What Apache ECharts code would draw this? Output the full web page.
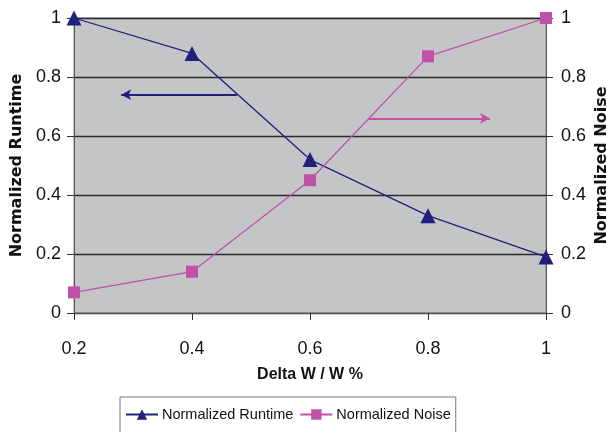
<!DOCTYPE html>
<html><head><meta charset="utf-8">
<script src="https://cdn.jsdelivr.net/npm/echarts@6/dist/echarts.min.js"></script>
<style>html,body{margin:0;padding:0;background:#fff}#c{width:607px;height:432px}</style>
</head><body><div id="c"></div>
<script>
var xValues = [0.2, 0.4, 0.6, 0.8, 1.0];
var runtime = [1.0, 0.88, 0.52, 0.33, 0.19];
var noise = [0.07, 0.14, 0.45, 0.87, 1.0];
var runtimeArrow = [[0.476, 0.74], [0.28, 0.74]];
var noiseArrow = [[0.70, 0.66], [0.905, 0.66]];

var font = 'Liberation Sans';
var nameFont = 'DejaVu Sans';
var blue = '#20207A';
var pink = '#C050A8';
var chart = echarts.init(document.getElementById('c'));
function pairs(xs, ys){ return xs.map(function(x,i){return [x, ys[i]];}); }
var fmt = function(v){ return (Math.round(v*10)/10).toString(); };
chart.setOption({
  animation: false,
  grid: {left: 74, right: 61, top: 18, bottom: 119, containLabel: false, outerBoundsMode: 'none',
         show: true, backgroundColor: '#C4C5C7', borderColor: '#8a8a8a', borderWidth: 1},
  legend: {
    top: 397, left: 120, itemWidth: 32, itemHeight: 13, itemGap: 6,
    borderColor: '#777', borderWidth: 1, padding: [10, 5, 30, 5], borderRadius: 0,
    textStyle: {fontFamily: font, fontSize: 14.5, color: '#111', padding: [0, 0, 0, -1]},
    data: ['Normalized Runtime', 'Normalized Noise']
  },
  xAxis: {
    type: 'value', min: 0.2, max: 1, interval: 0.2,
    name: 'Delta W / W %', nameLocation: 'middle', nameGap: 54,
    nameTextStyle: {fontFamily: font, fontSize: 16, fontWeight: 'bold', color: '#111'},
    axisLine: {lineStyle: {color: '#555'}},
    axisTick: {show: true, length: 7, lineStyle: {color: '#333'}},
    axisLabel: {formatter: fmt, fontFamily: font, fontSize: 18, color: '#111', margin: 27},
    splitLine: {show: false}
  },
  yAxis: [{
    type: 'value', min: 0, max: 1, interval: 0.2, position: 'left',
    name: 'Normalized Runtime', nameLocation: 'middle', nameGap: 47, nameRotate: 90,
    nameTextStyle: {fontFamily: nameFont, fontSize: 16, fontWeight: 'bold', color: '#111'},
    axisLine: {show: true, lineStyle: {color: '#555'}},
    axisTick: {show: true, length: 7, lineStyle: {color: '#333'}},
    axisLabel: {formatter: fmt, fontFamily: font, fontSize: 18, color: '#111', margin: 13},
    splitLine: {show: true, lineStyle: {color: '#2a2a2a', width: 1.3}}
  }, {
    type: 'value', min: 0, max: 1, interval: 0.2, position: 'right',
    name: 'Normalized Noise', nameLocation: 'middle', nameGap: 48, nameRotate: 90,
    nameMoveOverlap: false,
    nameTextStyle: {fontFamily: nameFont, fontSize: 16, fontWeight: 'bold', color: '#111', verticalAlign: 'top'},
    axisLine: {show: true, lineStyle: {color: '#555'}},
    axisTick: {show: true, length: 7, lineStyle: {color: '#333'}},
    axisLabel: {formatter: fmt, fontFamily: font, fontSize: 18, color: '#111', margin: 15},
    splitLine: {show: false}
  }],
  series: [{
    name: 'Normalized Runtime', type: 'line', yAxisIndex: 0,
    data: pairs(xValues, runtime),
    symbol: 'triangle', symbolSize: 15,
    lineStyle: {color: blue, width: 1.3},
    itemStyle: {color: blue},
    markLine: {
      silent: true, symbol: ['none', 'arrow'], symbolSize: [8, 10],
      label: {show: false},
      lineStyle: {color: blue, width: 2, type: 'solid'},
      data: [[{coord: runtimeArrow[0]}, {coord: runtimeArrow[1]}]]
    }
  }, {
    name: 'Normalized Noise', type: 'line', yAxisIndex: 1,
    data: pairs(xValues, noise),
    symbol: 'rect', symbolSize: 12,
    lineStyle: {color: pink, width: 1.3},
    itemStyle: {color: pink},
    markLine: {
      silent: true, symbol: ['none', 'arrow'], symbolSize: [8, 10],
      label: {show: false},
      lineStyle: {color: pink, width: 2, type: 'solid'},
      data: [[{coord: noiseArrow[0]}, {coord: noiseArrow[1]}]]
    }
  }]
});
</script></body></html>
